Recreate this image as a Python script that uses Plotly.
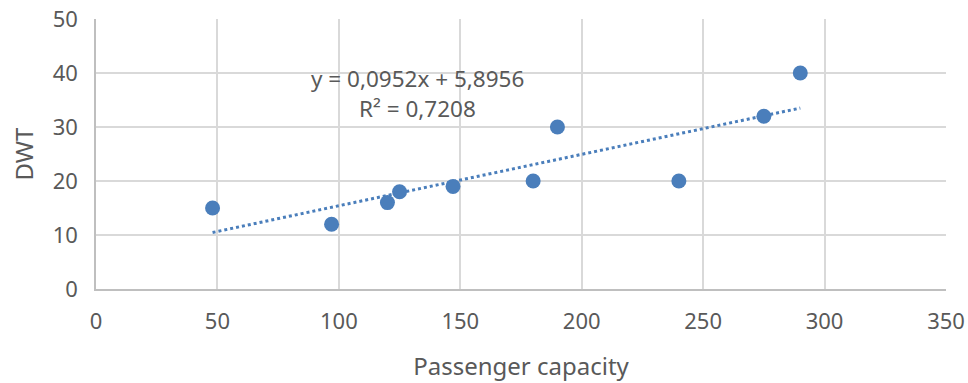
import plotly.graph_objects as go

passenger_capacity = [48, 97, 120, 125, 147, 180, 190, 240, 275, 290]
dwt = [15, 12, 16, 18, 19, 20, 30, 20, 32, 40]
trend_slope = 0.0952
trend_intercept = 5.8956
r_squared = 0.7208
x_ticks = [0, 50, 100, 150, 200, 250, 300, 350]
y_ticks = [0, 10, 20, 30, 40, 50]

trend_x = [min(passenger_capacity), max(passenger_capacity)]
trend_y = [trend_slope * v + trend_intercept for v in trend_x]

FONT = "Noto Sans"
GRAY = "#595959"
BLUE = "#4a7ebb"

fig = go.Figure()
fig.add_trace(go.Scatter(x=trend_x, y=trend_y, mode="lines",
                         line=dict(color=BLUE, width=3, dash="dot"),
                         hoverinfo="skip", showlegend=False))
fig.add_trace(go.Scatter(x=passenger_capacity, y=dwt, mode="markers",
                         marker=dict(color=BLUE, size=15, line=dict(width=0)),
                         showlegend=False))

eq_text = "y = {}x + {}".format(str(trend_slope).replace(".", ","), str(trend_intercept).replace(".", ","))
r2_text = "R² = {}".format(str(r_squared).replace(".", ","))
fig.add_annotation(x=(417.5 - 96) / 850, y=(289 - 78) / 270, xref="paper", yref="paper",
                   text=eq_text, showarrow=False, xanchor="center", yanchor="middle",
                   font=dict(family=FONT, size=22.5, color=GRAY))
fig.add_annotation(x=(417.5 - 96) / 850, y=(289 - 108) / 270, xref="paper", yref="paper",
                   text=r2_text, showarrow=False, xanchor="center", yanchor="middle",
                   font=dict(family=FONT, size=22.5, color=GRAY))

fig.update_layout(
    width=968, height=383,
    margin=dict(l=96, r=22, t=19, b=94, autoexpand=False),
    paper_bgcolor="white", plot_bgcolor="white",
    font=dict(family=FONT, color=GRAY),
    xaxis=dict(range=[0, 350], tickvals=x_ticks, showgrid=True, gridcolor="#d9d9d9", gridwidth=1.5,
               showline=True, linecolor="#bfbfbf", linewidth=1.5, zeroline=False, automargin=False,
               ticks="", tickfont=dict(size=22, color=GRAY), ticklabelstandoff=12,
               title=dict(text="Passenger capacity", font=dict(size=24, color=GRAY), standoff=24)),
    yaxis=dict(range=[0, 50], tickvals=y_ticks, showgrid=True, gridcolor="#d9d9d9", gridwidth=1.5,
               showline=True, linecolor="#bfbfbf", linewidth=1.5, zeroline=False, automargin=False,
               ticks="", tickfont=dict(size=22, color=GRAY), ticklabelstandoff=12,
               title=dict(text="DWT", font=dict(size=24, color=GRAY), standoff=12)),
)

fig.write_html("out.html", config={"displayModeBar": False},
               post_script="document.body.style.margin='0';document.body.style.overflow='hidden';")
